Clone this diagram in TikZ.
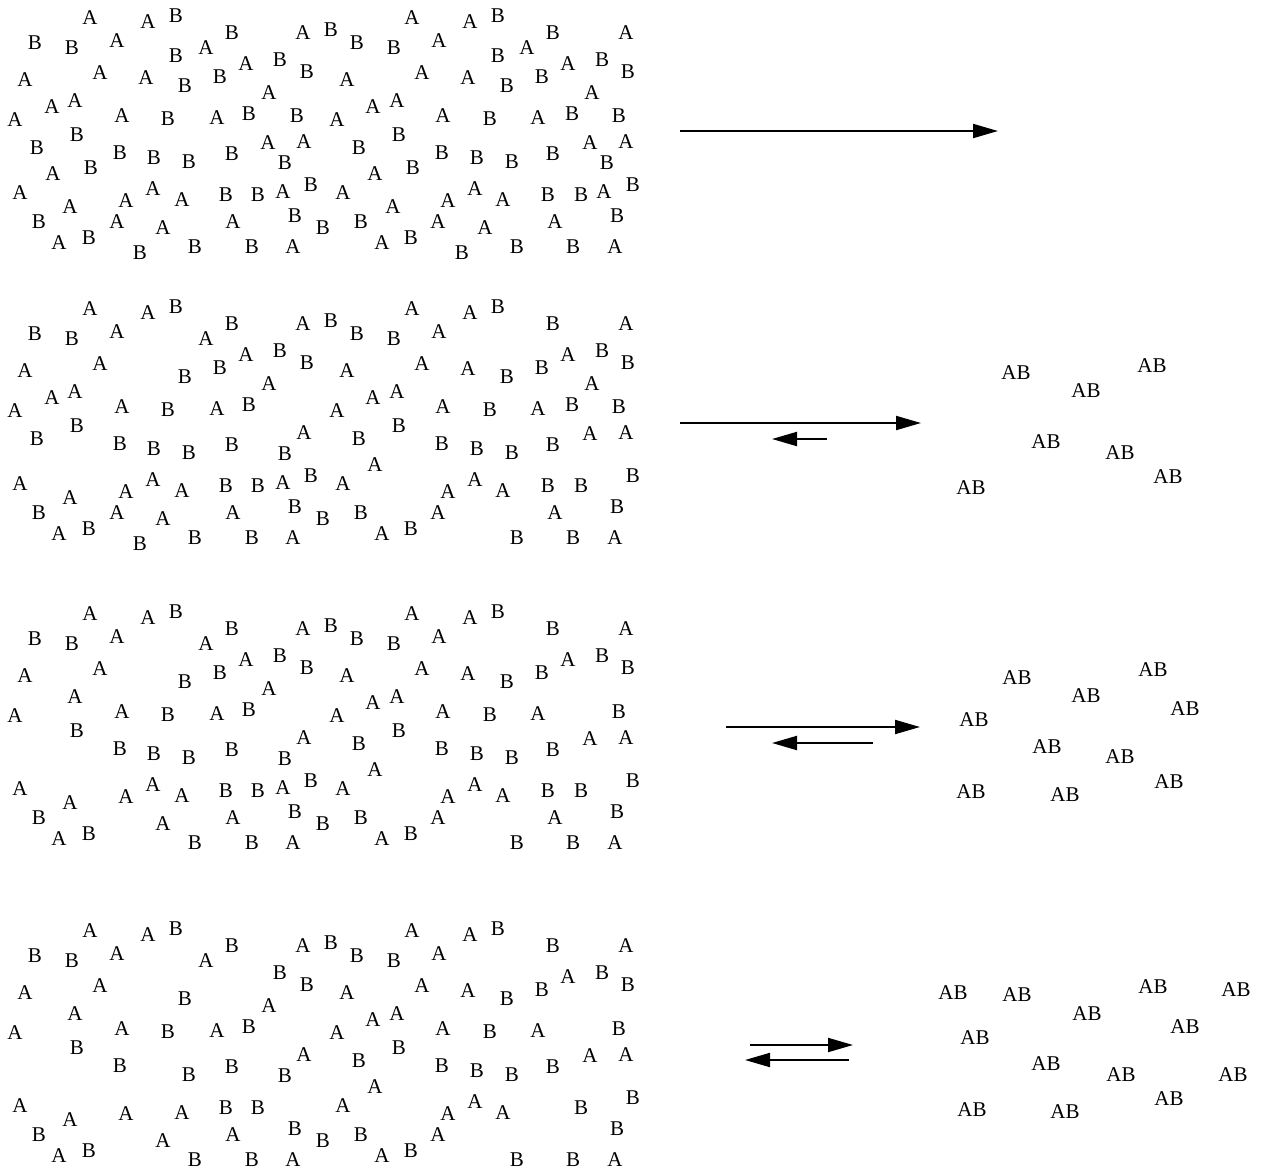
\documentclass[tikz,border=0pt]{standalone}
\usepackage{fontspec}
\setmainfont{Liberation Serif}
\usetikzlibrary{arrows.meta}
\begin{document}
\def\letterlist{90/18/A/5, 148/22/A/5, 176/16/B/5, 35/43/B/5, 72/48/B/5, 117/41/A/5, 232/33/B/5, 303/33/A/5, 176/56/B/2, 206/48/A/5, 246/64/A/4, 280/60/B/5, 307/72/B/5, 25/80/A/5, 100/73/A/5, 146/78/A/2, 185/86/B/5, 220/77/B/4, 269/93/A/5, 52/107/A/3, 75/101/A/5, 15/120/A/5, 122/116/A/5, 168/119/B/5, 217/118/A/5, 249/114/B/5, 297/116/B/2, 77/135/B/5, 37/148/B/3, 120/153/B/5, 154/158/B/4, 189/162/B/5, 232/154/B/5, 268/143/A/2, 304/142/A/5, 285/163/B/5, 53/174/A/2, 91/168/B/2, 20/193/A/5, 153/189/A/4, 126/201/A/5, 182/200/A/5, 226/195/B/5, 258/195/B/5, 283/192/A/4, 311/185/B/4, 70/207/A/5, 39/222/B/5, 117/222/A/3, 163/228/A/5, 233/222/A/5, 295/216/B/5, 59/243/A/5, 89/238/B/5, 140/253/B/3, 195/247/B/5, 252/247/B/5, 293/247/A/5, 331/30/B/5, 323/228/B/5,
412/18/A/5, 470/22/A/5, 498/16/B/5, 357/43/B/5, 394/48/B/5, 439/41/A/5, 553/33/B/5, 626/33/A/5, 498/56/B/2, 527/48/A/2, 568/64/A/5, 602/60/B/5, 628/72/B/5, 347/80/A/5, 422/73/A/5, 468/78/A/5, 507/86/B/5, 542/77/B/5, 592/93/A/3, 373/107/A/5, 397/101/A/5, 337/120/A/5, 443/116/A/5, 490/119/B/5, 538/118/A/5, 572/114/B/3, 619/116/B/5, 399/135/B/5, 359/148/B/5, 442/153/B/5, 477/158/B/5, 512/162/B/5, 553/154/B/5, 590/143/A/5, 626/142/A/5, 607/163/B/2, 375/174/A/5, 413/168/B/2, 343/193/A/5, 475/189/A/5, 448/201/A/5, 503/200/A/5, 548/195/B/4, 581/195/B/5, 604/192/A/2, 633/185/B/5, 393/207/A/2, 361/222/B/5, 438/222/A/5, 485/228/A/2, 555/222/A/4, 617/216/B/5, 382/243/A/5, 411/238/B/5, 462/253/B/2, 517/247/B/5, 573/247/B/5, 615/247/A/5}
\begin{tikzpicture}[x=0.5pt,y=-0.5pt,
  lt/.style={inner sep=0pt,font=\fontsize{10.5}{12}\selectfont},
  arr/.style={line width=1pt,-{Triangle[length=12.5pt,width=7pt]}}]
\useasboundingbox (0,0) rectangle (1266,1174);
% scattered A and B molecules, four panels
\foreach \p/\dy in {1/0,2/291,3/595.5,4/913}{
  \foreach \x/\y/\t/\k [count=\i] in \letterlist {
    \ifnum\k>\p
      \node[lt] (p\p l\i) at (\x,\y+\dy) {\t};
    \fi
  }
}
% AB products
\foreach \x/\y [count=\i] in {1016/373, 1152/366, 1086/391, 1046/442, 1120/453, 1168/477, 971/488}
  \node[lt] (ab2n\i) at (\x,\y) {AB};
\foreach \x/\y [count=\i] in {1017/678, 1153/670, 1086/696, 1185/709, 974/720, 1047/747, 1120/757, 1169/782, 971/792, 1065/795}
  \node[lt] (ab3n\i) at (\x,\y) {AB};
\foreach \x/\y [count=\i] in {953/993, 1017/995, 1153/987, 1236/990, 1087/1014, 1185/1027, 975/1038, 1046/1064, 1121/1075, 1233/1075, 1169/1099, 972/1110, 1065/1112}
  \node[lt] (ab4n\i) at (\x,\y) {AB};
% arrows
\coordinate (f1s) at (680,131);  \coordinate (f1e) at (998,131);
\coordinate (f2s) at (680,423);  \coordinate (f2e) at (921,423);
\coordinate (b2s) at (827,439);  \coordinate (b2e) at (772,439);
\coordinate (f3s) at (726,727);  \coordinate (f3e) at (920,727);
\coordinate (b3s) at (873,743);  \coordinate (b3e) at (772,743);
\coordinate (f4s) at (750,1045); \coordinate (f4e) at (853,1045);
\coordinate (b4s) at (849,1060); \coordinate (b4e) at (745,1060);
\draw[arr] (f1s) -- (f1e);
\draw[arr] (f2s) -- (f2e);
\draw[arr] (b2s) -- (b2e);
\draw[arr] (f3s) -- (f3e);
\draw[arr] (b3s) -- (b3e);
\draw[arr] (f4s) -- (f4e);
\draw[arr] (b4s) -- (b4e);
\end{tikzpicture}
\end{document}
